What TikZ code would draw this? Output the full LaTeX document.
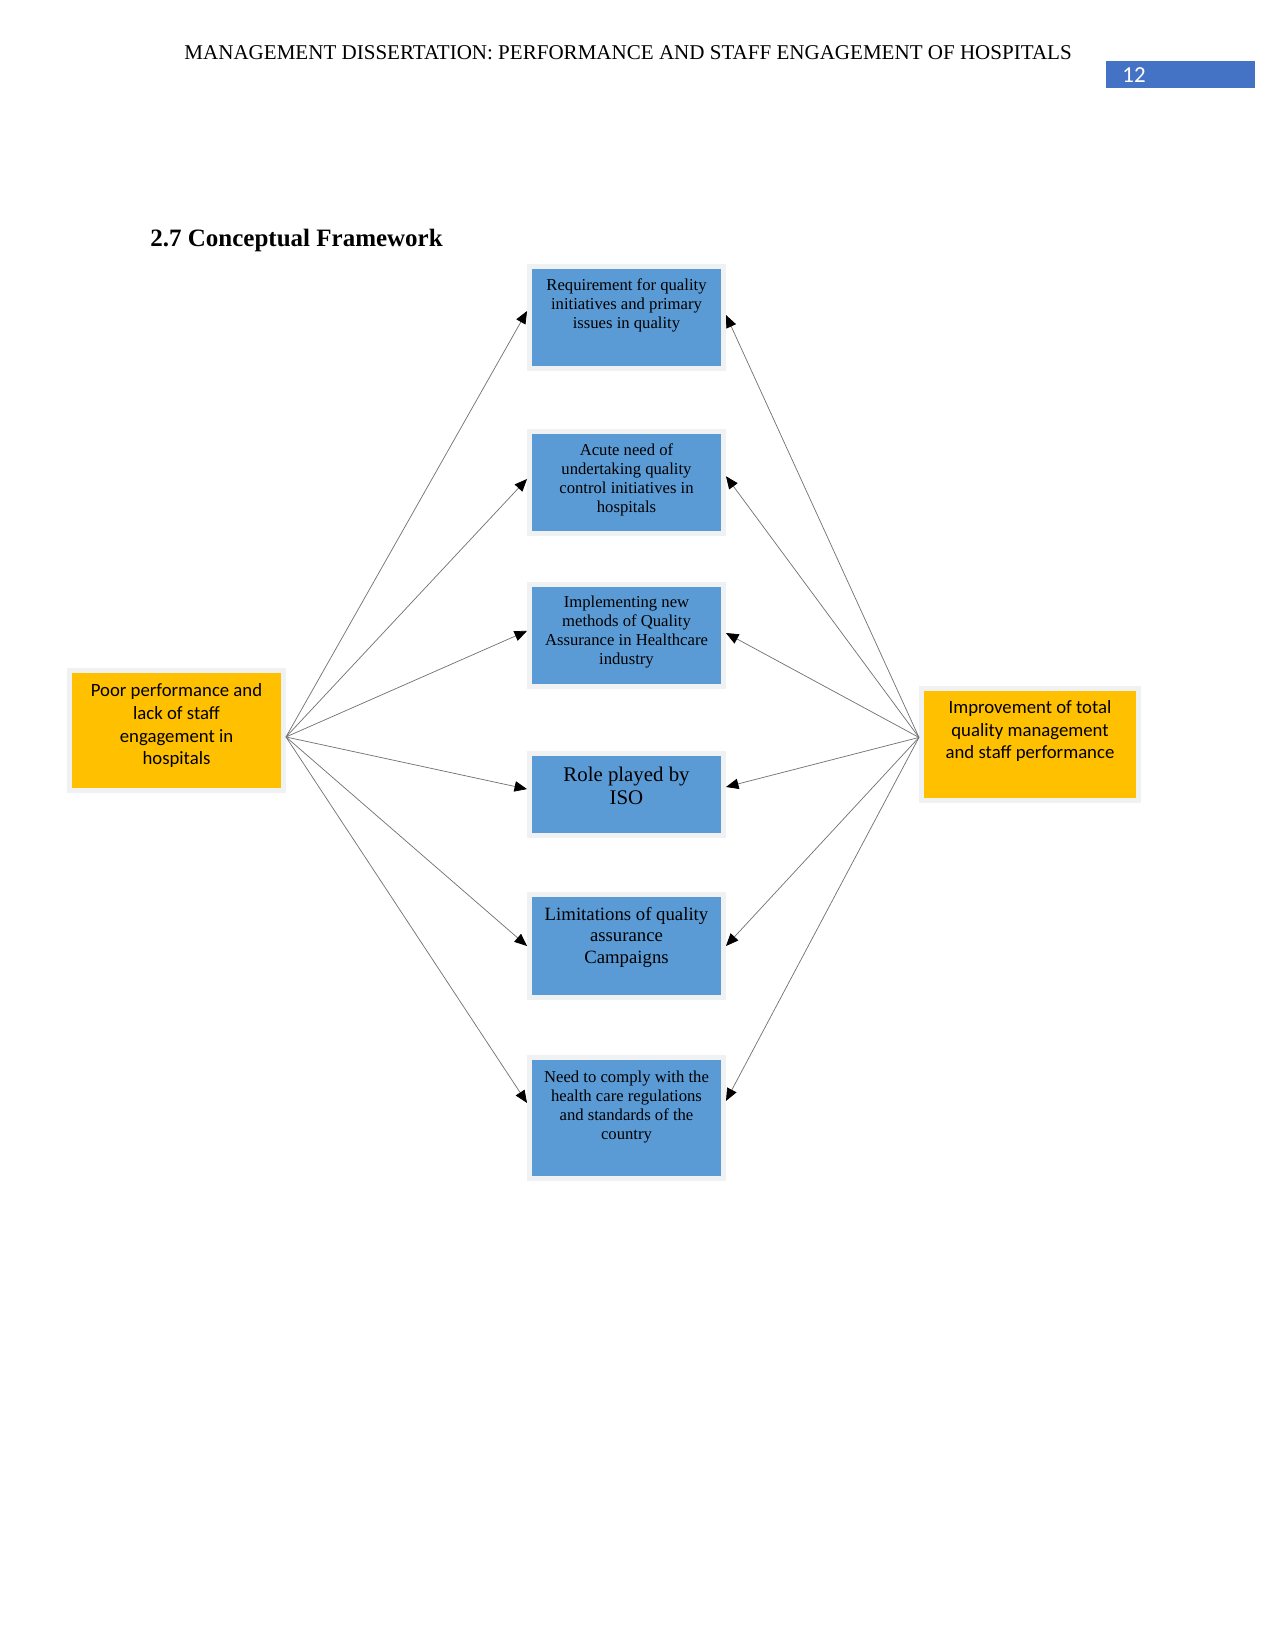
\documentclass[tikz,border=0pt]{standalone}
\usepackage{fontspec}
\setmainfont{Liberation Serif}
\newfontfamily\calibri{Carlito}
\usetikzlibrary{arrows.meta, positioning, calc}

\definecolor{boxblue}{HTML}{5B9BD5}
\definecolor{boxgold}{HTML}{FFC000}
\definecolor{pageblue}{HTML}{4472C4}
\definecolor{rimgray}{HTML}{EFF1F3}

\begin{document}
\begin{tikzpicture}[
    x=0.48pt, y=-0.48pt,
    issue/.style={draw=rimgray, line width=2.4pt, fill=boxblue,
        minimum width=93.1pt, inner sep=0pt},
    factor/.style={draw=rimgray, line width=2.4pt, fill=boxgold, inner sep=0pt},
    issuetext/.style={align=center, inner sep=0pt, anchor=north,
        font=\fontsize{8}{9.1}\selectfont},
    factortext/.style={align=center, inner sep=0pt, anchor=north,
        font=\calibri\fontsize{9}{10.9}\selectfont},
    link/.style={draw=black!55, line width=0.35pt,
        -{Triangle[length=6pt, width=5pt, color=black]}}
]
\useasboundingbox (0,0) rectangle (1275,1650);

% Running header and page number
\node[anchor=base west, inner sep=0pt, font=\fontsize{10.1}{12}\selectfont] (header) at (184,60)
    {MANAGEMENT DISSERTATION: PERFORMANCE AND STAFF ENGAGEMENT OF HOSPITALS};
\node[fill=pageblue, anchor=north west, minimum width=71.5pt, minimum height=13pt, inner sep=0pt] (pagebox) at (1106,61) {};
\node[anchor=base west, inner sep=0pt, text=white, font=\calibri\fontsize{11}{13}\selectfont] (pageno) at (1122,83) {12};

% Section heading
\node[anchor=base west, inner sep=0pt, font=\fontsize{12}{14}\selectfont\bfseries] (heading) at (150,247)
    {2.7 Conceptual Framework};

% Middle column: quality issues
\node[issue, minimum height=49pt] (req)   at (626.5,317.5)  {};
\node[issue, minimum height=49pt] (acute) at (626.5,482.5)  {};
\node[issue, minimum height=49pt] (impl)  at (626.5,635.5)  {};
\node[issue, minimum height=39.4pt] (iso) at (626.5,794.5)  {};
\node[issue, minimum height=49.4pt] (limit) at (626.5,946)  {};
\node[issue, minimum height=58pt] (comply) at (626.5,1118)  {};

\node[issuetext, yshift=-6.8pt] (reqtext) at (req.north)
    {Requirement for quality\\initiatives and primary\\issues in quality};
\node[issuetext, yshift=-6.8pt] (acutetext) at (acute.north)
    {Acute need of\\undertaking quality\\control initiatives in\\hospitals};
\node[issuetext, yshift=-6.5pt] (impltext) at (impl.north)
    {Implementing new\\methods of Quality\\Assurance in Healthcare\\industry};
\node[issuetext, yshift=-7.5pt, font=\fontsize{10}{11.1}\selectfont] (isotext) at (iso.north)
    {Role played by\\ISO};
\node[issuetext, yshift=-7pt, font=\fontsize{9}{10.4}\selectfont] (limittext) at (limit.north)
    {Limitations of quality\\assurance\\Campaigns};
\node[issuetext, yshift=-7.3pt] (complytext) at (comply.north)
    {Need to comply with the\\health care regulations\\and standards of the\\country};

% Outer columns: cause and outcome
\node[factor, minimum width=102.7pt, minimum height=57.6pt] (poor) at (176.5,730.5) {};
\node[factortext, yshift=-7.3pt] (poortext) at (poor.north)
    {Poor performance and\\lack of staff\\engagement in\\hospitals};
\node[factor, minimum width=104.2pt, minimum height=53.8pt] (improve) at (1030,744.5) {};
\node[factortext, yshift=-6.8pt] (improvetext) at (improve.north)
    {Improvement of total\\quality management\\and staff performance};

% Fan points
\coordinate (lfan) at ([yshift=-3.1pt]poor.east);
\coordinate (rfan) at ([yshift=3.4pt]improve.west);

% Links from the cause
\draw[link] (lfan) -- ([yshift=3.1pt]req.west);
\draw[link] (lfan) -- ([yshift=1.7pt]acute.west);
\draw[link] (lfan) -- ([yshift=2.2pt]impl.west);
\draw[link] (lfan) -- ([yshift=2.6pt]iso.west);
\draw[link] (lfan) -- (limit.west);
\draw[link] (lfan) -- ([yshift=7.2pt]comply.west);

% Links from the outcome
\draw[link] (rfan) -- ([yshift=1.2pt]req.east);
\draw[link] (rfan) -- ([yshift=3pt]acute.east);
\draw[link] (rfan) -- ([yshift=1.2pt]impl.east);
\draw[link] (rfan) -- ([yshift=3.6pt]iso.east);
\draw[link] (rfan) -- (limit.east);
\draw[link] (rfan) -- ([yshift=8.2pt]comply.east);

\end{tikzpicture}
\end{document}
